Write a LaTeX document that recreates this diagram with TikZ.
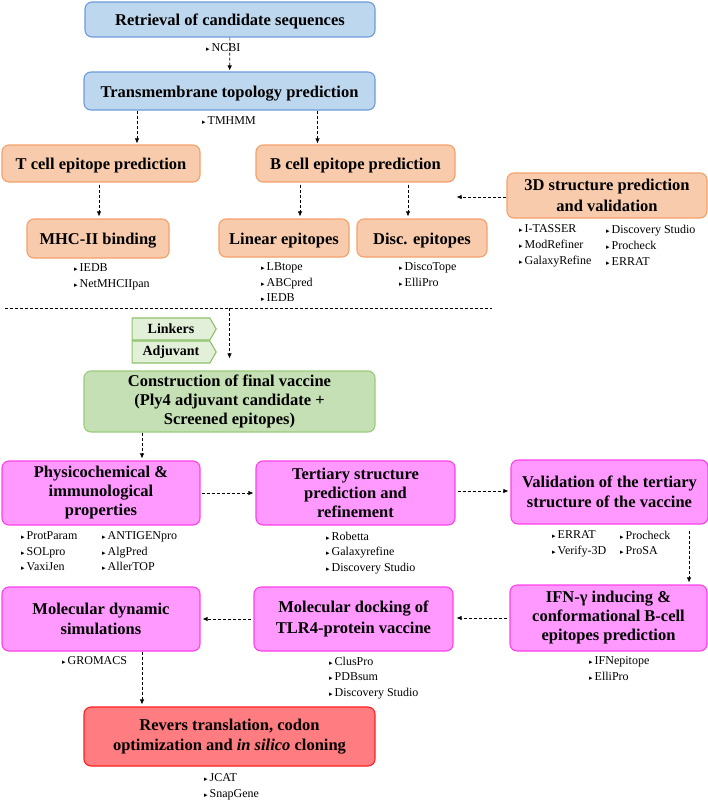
\documentclass[tikz,border=0pt]{standalone}
\usepackage{fontspec}
\setmainfont{Liberation Serif}
\newfontfamily\trifont{DejaVu Sans}
\usetikzlibrary{shapes.symbols,arrows.meta}
\definecolor{bluefill}{HTML}{BDD7EE}
\definecolor{blueline}{HTML}{6E9BDB}
\definecolor{orangefill}{HTML}{F8CBAD}
\definecolor{orangeline}{HTML}{F4A06A}
\definecolor{greenfill}{HTML}{C5E0B4}
\definecolor{greenline}{HTML}{9BCB7A}
\definecolor{tagfill}{HTML}{E2F0D9}
\definecolor{tagline}{HTML}{8CC168}
\definecolor{pinkfill}{HTML}{FF99FF}
\definecolor{pinkline}{HTML}{FF40E8}
\definecolor{redfill}{HTML}{FF7C80}
\definecolor{redline}{HTML}{FF2020}
\newcommand\tri{{\trifont\fontsize{7}{7}\selectfont ▸}\,}
\begin{document}
\begin{tikzpicture}[x=1pt, y=-1pt,
    box/.style={draw, rounded corners=7pt, line width=1.1pt, align=center, inner sep=0pt, font=\fontsize{16.5}{19}\selectfont\bfseries, execute at begin node={\rule{0pt}{16.5pt}}},
    twolines/.style={font=\fontsize{16.5}{20.5}\selectfont\bfseries},
    bluebox/.style={box, draw=blueline, fill=bluefill},
    orangebox/.style={box, draw=orangeline, fill=orangefill},
    greenbox/.style={box, draw=greenline, fill=greenfill},
    pinkbox/.style={box, draw=pinkline, fill=pinkfill},
    redbox/.style={box, draw=redline, fill=redfill},
    tag/.style={signal, signal to=east, signal pointer angle=120, draw=tagline, fill=tagfill, line width=1.1pt, inner sep=0pt, minimum width=84pt, minimum height=22pt, font=\fontsize{14}{16}\selectfont\bfseries},
    tools/.style={anchor=north west, align=left, inner sep=0pt, font=\fontsize{12}{15.5}\selectfont},
    dasharrow/.style={densely dashed, line width=0.7pt, -{Latex[length=5pt,width=4.5pt]}}]
    \useasboundingbox (0,0) rectangle (708,800);
    \node[bluebox, minimum width=290pt, minimum height=35pt] (retr) at (230,19.5) {Retrieval of candidate sequences};
    \node[bluebox, minimum width=291pt, minimum height=38pt] (trans) at (229.5,91) {Transmembrane topology prediction};
    \node[orangebox, minimum width=198pt, minimum height=37pt] (tcell) at (101,163.5) {T cell epitope prediction};
    \node[orangebox, minimum width=199pt, minimum height=37pt] (bcell) at (355.5,163.5) {B cell epitope prediction};
    \node[orangebox, twolines, minimum width=200pt, minimum height=45pt] (struct) at (607,195.5) {3D structure prediction\\and validation};
    \node[orangebox, minimum width=142pt, minimum height=39pt] (mhc) at (98,238.5) {MHC-II binding};
    \node[orangebox, minimum width=130pt, minimum height=38pt] (linear) at (284,238) {Linear epitopes};
    \node[orangebox, minimum width=130pt, minimum height=38pt] (disc) at (422,238) {Disc. epitopes};
    \node[tag] (linkers) at (171,329) {Linkers};
    \node[tag] (adjuvant) at (171,352) {Adjuvant};
    \node[greenbox, minimum width=291pt, minimum height=61pt] (constr) at (229.5,401.5) {Construction of final vaccine\\(Ply4 adjuvant candidate +\\Screened epitopes)};
    \node[pinkbox, minimum width=198pt, minimum height=64pt] (physico) at (101,493) {Physicochemical \&\\immunological\\properties};
    \node[pinkbox, minimum width=199pt, minimum height=64pt] (tert) at (355.5,493) {Tertiary structure\\prediction and\\refinement};
    \node[pinkbox, twolines, minimum width=197pt, minimum height=64pt] (valid) at (609.5,492) {Validation of the tertiary\\structure of the vaccine};
    \node[pinkbox, minimum width=197pt, minimum height=66pt] (ifn) at (608.5,618) {IFN-γ inducing \&\\conformational B-cell\\epitopes prediction};
    \node[pinkbox, twolines, minimum width=199pt, minimum height=64pt] (dock) at (353.5,619) {Molecular docking of\\TLR4-protein vaccine};
    \node[pinkbox, twolines, minimum width=198pt, minimum height=64pt] (mdyn) at (101,619) {Molecular dynamic\\simulations};
    \node[redbox, twolines, minimum width=291pt, minimum height=59pt] (revers) at (229.5,736.5) {Revers translation, codon\\optimization and \textit{in silico} cloning};
    \node[tools] (ncbi) at (206,43.5) {\tri NCBI};
    \node[tools] (tmhmm) at (202,116.5) {\tri TMHMM};
    \node[tools] (mhcTools) at (74,263.5) {\tri IEDB\\\tri NetMHCIIpan};
    \node[tools] (linearTools) at (261,262.5) {\tri LBtope\\\tri ABCpred\\\tri IEDB};
    \node[tools] (discTools) at (399,262.5) {\tri DiscoTope\\\tri ElliPro};
    \node[tools, font=\fontsize{12}{16}\selectfont] (structToolsA) at (519,224.5) {\tri I-TASSER\\\tri ModRefiner\\\tri GalaxyRefine};
    \node[tools, font=\fontsize{12}{16}\selectfont] (structToolsB) at (606,224.5) {\tri Discovery Studio\\\tri Procheck\\\tri ERRAT};
    \node[tools] (physicoToolsA) at (21,531.5) {\tri ProtParam\\\tri SOLpro\\\tri VaxiJen};
    \node[tools] (physicoToolsB) at (102,531.5) {\tri ANTIGENpro\\\tri AlgPred\\\tri AllerTOP};
    \node[tools] (tertTools) at (326,531.5) {\tri Robetta\\\tri Galaxyrefine\\\tri Discovery Studio};
    \node[tools] (validToolsA) at (552,530.5) {\tri ERRAT\\\tri Verify-3D};
    \node[tools] (validToolsB) at (620,530.5) {\tri Procheck\\\tri ProSA};
    \node[tools] (ifnTools) at (589,656.5) {\tri IFNepitope\\\tri ElliPro};
    \node[tools] (dockTools) at (329,656.5) {\tri ClusPro\\\tri PDBsum\\\tri Discovery Studio};
    \node[tools] (mdynTools) at (62,656.5) {\tri GROMACS};
    \node[tools] (reversTools) at (204,773.5) {\tri JCAT\\\tri SnapGene};
    \coordinate (sepL) at (5,308);
    \coordinate (sepR) at (492,308);
    \draw[dasharrow, shorten >=1pt] (retr) -- (trans);
    \draw[dasharrow, shorten >=1pt] ([xshift=-92.5pt]trans.south) -- ([xshift=-92.5pt]trans.south |- tcell.north);
    \draw[dasharrow, shorten >=1pt] ([xshift=88pt]trans.south) -- ([xshift=88pt]trans.south |- bcell.north);
    \draw[dasharrow, shorten <=2pt, shorten >=2pt] ([xshift=1pt]mhc.north |- tcell.south) -- ([xshift=1pt]mhc.north);
    \draw[dasharrow, shorten <=2pt, shorten >=2pt] ([xshift=16pt]linear.north |- bcell.south) -- ([xshift=16pt]linear.north);
    \draw[dasharrow, shorten <=2pt, shorten >=2pt] ([xshift=-14pt]disc.north |- bcell.south) -- ([xshift=-14pt]disc.north);
    \draw[dasharrow, shorten >=1pt] ([yshift=-1.5pt]struct.west) -- ([yshift=-1.5pt]struct.west -| bcell.east);
    \draw[densely dashed, line width=0.7pt] (sepL) -- (sepR);
    \draw[dasharrow] (constr.north |- sepL) -- ([yshift=12pt]constr.north);
    \draw[dasharrow, shorten >=2pt] ([xshift=41pt]physico.north |- constr.south) -- ([xshift=41pt]physico.north);
    \draw[dasharrow, shorten <=1pt, shorten >=2pt] (physico.east) -- (physico.east -| tert.west);
    \draw[dasharrow, shorten <=2pt, shorten >=2pt] ([yshift=2pt]tert.east) -- ([yshift=1pt]valid.west);
    \draw[dasharrow, shorten <=6pt, shorten >=2pt] ([xshift=80.5pt]ifn.north |- valid.south) -- ([xshift=80.5pt]ifn.north);
    \draw[dasharrow, shorten <=2pt, shorten >=3pt] (ifn.west) -- (ifn.west -| dock.east);
    \draw[dasharrow, shorten <=2pt, shorten >=2pt] (dock.west) -- (dock.west -| mdyn.east);
    \draw[dasharrow, shorten >=2pt] ([xshift=41pt]mdyn.south) -- ([xshift=41pt]mdyn.south |- revers.north);
\end{tikzpicture}
\end{document}
